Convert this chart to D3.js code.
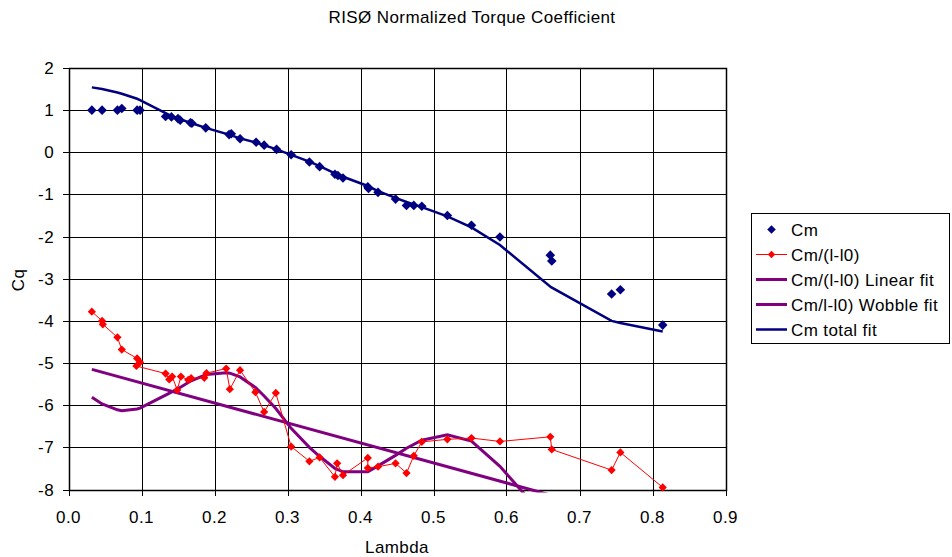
<!DOCTYPE html>
<meta charset="utf-8">
<style>
body{margin:0;background:#fff;}
text{font-family:"Liberation Sans",Arial,sans-serif;fill:#000;font-size:17px;letter-spacing:0.4px;}
.grid line{stroke:#000;stroke-width:1px;shape-rendering:crispEdges;}
</style>
<body>
<script src="https://d3js.org/d3.v7.min.js"></script>
<script>

// Cm measured points
var cmLambda=[0.032,0.046,0.067,0.073,0.094,0.098,0.133,0.141,0.150,0.153,0.167,0.169,0.188,0.220,0.223,0.235,0.257,0.268,0.285,0.305,0.330,0.344,0.365,0.369,0.376,0.410,0.411,0.424,0.448,0.463,0.473,0.484,0.519,0.552,0.591,0.660,0.662,0.744,0.756,0.814];
var cmValues=[1.0,1.0,1.0,1.04,1.0,1.0,0.85,0.84,0.80,0.76,0.70,0.69,0.58,0.42,0.44,0.32,0.24,0.17,0.07,-0.06,-0.23,-0.34,-0.52,-0.55,-0.61,-0.82,-0.86,-0.95,-1.11,-1.26,-1.26,-1.28,-1.50,-1.73,-2.01,-2.44,-2.58,-3.36,-3.26,-4.10];

// Cm/(l-l0)
var ratioLambda=[0.032,0.046,0.047,0.067,0.073,0.094,0.098,0.093,0.133,0.138,0.142,0.149,0.154,0.164,0.168,0.186,0.189,0.216,0.221,0.235,0.256,0.268,0.284,0.305,0.330,0.344,0.365,0.368,0.376,0.410,0.410,0.424,0.448,0.463,0.473,0.484,0.519,0.552,0.591,0.660,0.662,0.744,0.756,0.814];
var ratioValues=[-3.78,-4.00,-4.08,-4.39,-4.68,-4.89,-4.98,-5.07,-5.25,-5.39,-5.32,-5.64,-5.32,-5.40,-5.36,-5.35,-5.24,-5.13,-5.62,-5.17,-5.69,-6.16,-5.71,-6.98,-7.33,-7.24,-7.70,-7.38,-7.66,-7.25,-7.49,-7.46,-7.38,-7.61,-7.20,-6.87,-6.81,-6.78,-6.86,-6.75,-7.05,-7.54,-7.12,-7.95];

// linear fit
var linLambda=[0.032,0.814];
var linValues=[-5.15,-8.86];

// wobble fit
var wobLambda=[0.032,0.046,0.067,0.073,0.094,0.098,0.133,0.150,0.168,0.189,0.216,0.221,0.235,0.256,0.268,0.284,0.305,0.330,0.343,0.365,0.376,0.410,0.424,0.448,0.463,0.484,0.519,0.552,0.591,0.660];
var wobValues=[-5.81,-5.97,-6.11,-6.13,-6.09,-6.07,-5.76,-5.61,-5.42,-5.27,-5.23,-5.24,-5.33,-5.58,-5.78,-6.08,-6.55,-7.00,-7.20,-7.50,-7.58,-7.58,-7.44,-7.19,-7.02,-6.83,-6.70,-6.85,-7.45,-8.80];

// Cm total fit
var totLambda=[0.032,0.046,0.067,0.073,0.094,0.098,0.133,0.141,0.150,0.167,0.188,0.220,0.235,0.257,0.268,0.285,0.305,0.330,0.344,0.365,0.376,0.410,0.424,0.448,0.463,0.484,0.519,0.552,0.591,0.661,0.744,0.756,0.814];
var totValues=[1.54,1.50,1.42,1.39,1.27,1.24,0.93,0.86,0.80,0.70,0.58,0.42,0.33,0.23,0.17,0.07,-0.06,-0.22,-0.33,-0.50,-0.58,-0.80,-0.92,-1.08,-1.18,-1.30,-1.52,-1.78,-2.20,-3.20,-4.00,-4.05,-4.25];

var xTicks=[0,0.1,0.2,0.3,0.4,0.5,0.6,0.7,0.8,0.9];
var yTicks=[2,1,0,-1,-2,-3,-4,-5,-6,-7,-8];

var W=952,H=557;
var L=68.5,R=725.5,T=68,B=489.5;

var svg=d3.select("body").append("svg").attr("width",W).attr("height",H);

var x=d3.scaleLinear().domain([0,0.9]).range([L,R]);
var y=d3.scaleLinear().domain([-8,2]).range([B,T]);

svg.append("defs").append("clipPath").attr("id","clip")
  .append("rect").attr("x",L).attr("y",T).attr("width",R-L).attr("height",B-T+3);

// grid
var grid=svg.append("g").attr("class","grid");
grid.selectAll(".gx").data(xTicks).enter().append("line")
  .attr("x1",d=>Math.round(x(d))+0.5).attr("x2",d=>Math.round(x(d))+0.5)
  .attr("y1",T).attr("y2",B+6);
grid.selectAll(".gy").data(yTicks).enter().append("line")
  .attr("x1",L-6).attr("x2",R)
  .attr("y1",d=>Math.round(y(d))+0.5).attr("y2",d=>Math.round(y(d))+0.5);
svg.append("rect").attr("x",Math.round(L)+0.5).attr("y",Math.round(T)+0.5)
  .attr("width",Math.round(R-L)).attr("height",Math.round(B-T))
  .attr("fill","none").attr("stroke","#000").attr("stroke-width",1.5);

// tick labels
svg.selectAll(".yl").data(yTicks).enter().append("text")
  .attr("x",54).attr("y",d=>y(d)+6)
  .attr("text-anchor","end").text(d=>d);
svg.selectAll(".xl").data(xTicks).enter().append("text")
  .attr("x",d=>x(d)).attr("y",523)
  .attr("text-anchor","middle").text(d=>d3.format(".1f")(d));

// titles
svg.append("text").attr("x",472).attr("y",23).attr("text-anchor","middle")
  .text("RISØ Normalized Torque Coefficient");
svg.append("text").attr("x",397).attr("y",553).attr("text-anchor","middle")
  .text("Lambda");
svg.append("text").attr("transform","translate(24,280) rotate(-90)").attr("text-anchor","middle")
  .text("Cq");

function pts(xs,ys){return xs.map((d,i)=>[d,ys[i]]);}
var line=d3.line().x(d=>x(d[0])).y(d=>y(d[1]));
var plot=svg.append("g").attr("clip-path","url(#clip)");

plot.append("path").datum(pts(linLambda,linValues)).attr("d",line)
  .attr("fill","none").attr("stroke","#800080").attr("stroke-width",3);
plot.append("path").datum(pts(wobLambda,wobValues)).attr("d",line)
  .attr("fill","none").attr("stroke","#800080").attr("stroke-width",3);

var ratio=pts(ratioLambda,ratioValues);
plot.append("path").datum(ratio).attr("d",line)
  .attr("fill","none").attr("stroke","#ff0000").attr("stroke-width",1);
var sqR=d3.symbol().type(d3.symbolSquare).size(34);
plot.selectAll(".rp").data(ratio).enter().append("path")
  .attr("d",sqR).attr("fill","#ff0000")
  .attr("transform",d=>"translate("+x(d[0])+","+y(d[1])+") rotate(45)");

plot.append("path").datum(pts(totLambda,totValues)).attr("d",line)
  .attr("fill","none").attr("stroke","#000080").attr("stroke-width",2.5);

var sqC=d3.symbol().type(d3.symbolSquare).size(46);
svg.selectAll(".cp").data(pts(cmLambda,cmValues)).enter().append("path")
  .attr("d",sqC).attr("fill","#000080")
  .attr("transform",d=>"translate("+x(d[0])+","+y(d[1])+") rotate(45)");

// legend
var legendItems=[
  {name:"Cm",color:"#000080",line:0,marker:46},
  {name:"Cm/(l-l0)",color:"#ff0000",line:1,marker:34},
  {name:"Cm/(l-l0) Linear fit",color:"#800080",line:3,marker:0},
  {name:"Cm/l-l0) Wobble fit",color:"#800080",line:3,marker:0},
  {name:"Cm total fit",color:"#000080",line:2.5,marker:0}
];
var lg=svg.append("g");
lg.append("rect").attr("x",751.5).attr("y",213.5).attr("width",198).attr("height",130)
  .attr("fill","#fff").attr("stroke","#000").attr("stroke-width",1);
var li=lg.selectAll(".li").data(legendItems).enter().append("g")
  .attr("transform",(d,i)=>"translate(0,"+(229.5+i*25)+")");
li.filter(d=>d.line>0).append("line").attr("x1",756).attr("x2",787).attr("y1",0).attr("y2",0)
  .attr("stroke",d=>d.color).attr("stroke-width",d=>d.line);
li.filter(d=>d.marker>0).append("path")
  .attr("d",d=>d3.symbol().type(d3.symbolSquare).size(d.marker*0.8)())
  .attr("fill",d=>d.color).attr("transform","translate(771.5,0) rotate(45)");
li.append("text").attr("x",791).attr("y",6).text(d=>d.name);

</script>
</body>
